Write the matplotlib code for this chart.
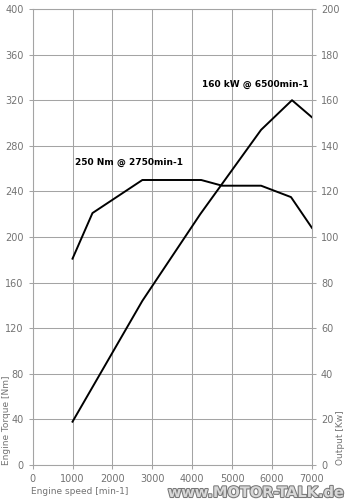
import matplotlib
matplotlib.use("Agg")
import matplotlib.pyplot as plt
import matplotlib.patheffects as pe

# torque curve (left axis, Nm)
torque_rpm = [1000, 1500, 2750, 4225, 4750, 5725, 6475, 7000]
torque_nm = [181, 221, 250, 250, 245, 245, 235, 208]

# power curve (right axis, kW)
power_rpm = [1000, 2750, 4200, 5725, 6500, 7000]
power_kw = [19, 72, 110, 147, 160, 152.5]

x_ticks = list(range(0, 7001, 1000))
left_ticks = list(range(0, 401, 40))
right_ticks = list(range(0, 201, 20))

grid_col = "#a4a4a4"
text_col = "#737373"

fig = plt.figure(figsize=(3.47, 5.0), dpi=100)
ax = fig.add_axes([0.094, 0.07, 0.805, 0.912])
ax2 = ax.twinx()

ax.set_xlim(0, 7000)
ax.set_ylim(0, 400)
ax2.set_ylim(0, 200)

ax.set_xticks(x_ticks)
ax.set_yticks(left_ticks)
ax2.set_yticks(right_ticks)

ax.grid(True, color=grid_col, linewidth=0.75)
for a in (ax, ax2):
    for s in a.spines.values():
        s.set_color(grid_col)
        s.set_linewidth(0.75)
    a.tick_params(colors=grid_col, labelcolor=text_col, labelsize=7,
                  length=3, width=0.75)

ax.plot(torque_rpm, torque_nm, color="black", linewidth=1.4)
ax2.plot(power_rpm, power_kw, color="black", linewidth=1.4)

ax.text(1050, 265, "250 Nm @ 2750min-1", fontsize=6.5, fontweight="bold",
        va="center", ha="left")
ax.text(4250, 334, "160 kW @ 6500min-1", fontsize=6.5, fontweight="bold",
        va="center", ha="left")

fig.text(0.018, 0.07, "Engine Torque [Nm]", rotation=90, fontsize=6.5,
         color=text_col, ha="center", va="bottom")
fig.text(0.982, 0.07, "Output [Kw]", rotation=90, fontsize=6.5,
         color=text_col, ha="center", va="bottom")
fig.text(0.088, 0.017, "Engine speed [min-1]", fontsize=6.5,
         color=text_col, ha="left", va="center")

# watermark
fig.text(0.995, 0.015, "www.MOTOR-TALK.de", fontsize=10.5, fontweight="bold",
         color="#d8d8d8", ha="right", va="center",
         path_effects=[pe.withStroke(linewidth=1.5, foreground="#777777")])

fig.savefig("out.png", dpi=100)
